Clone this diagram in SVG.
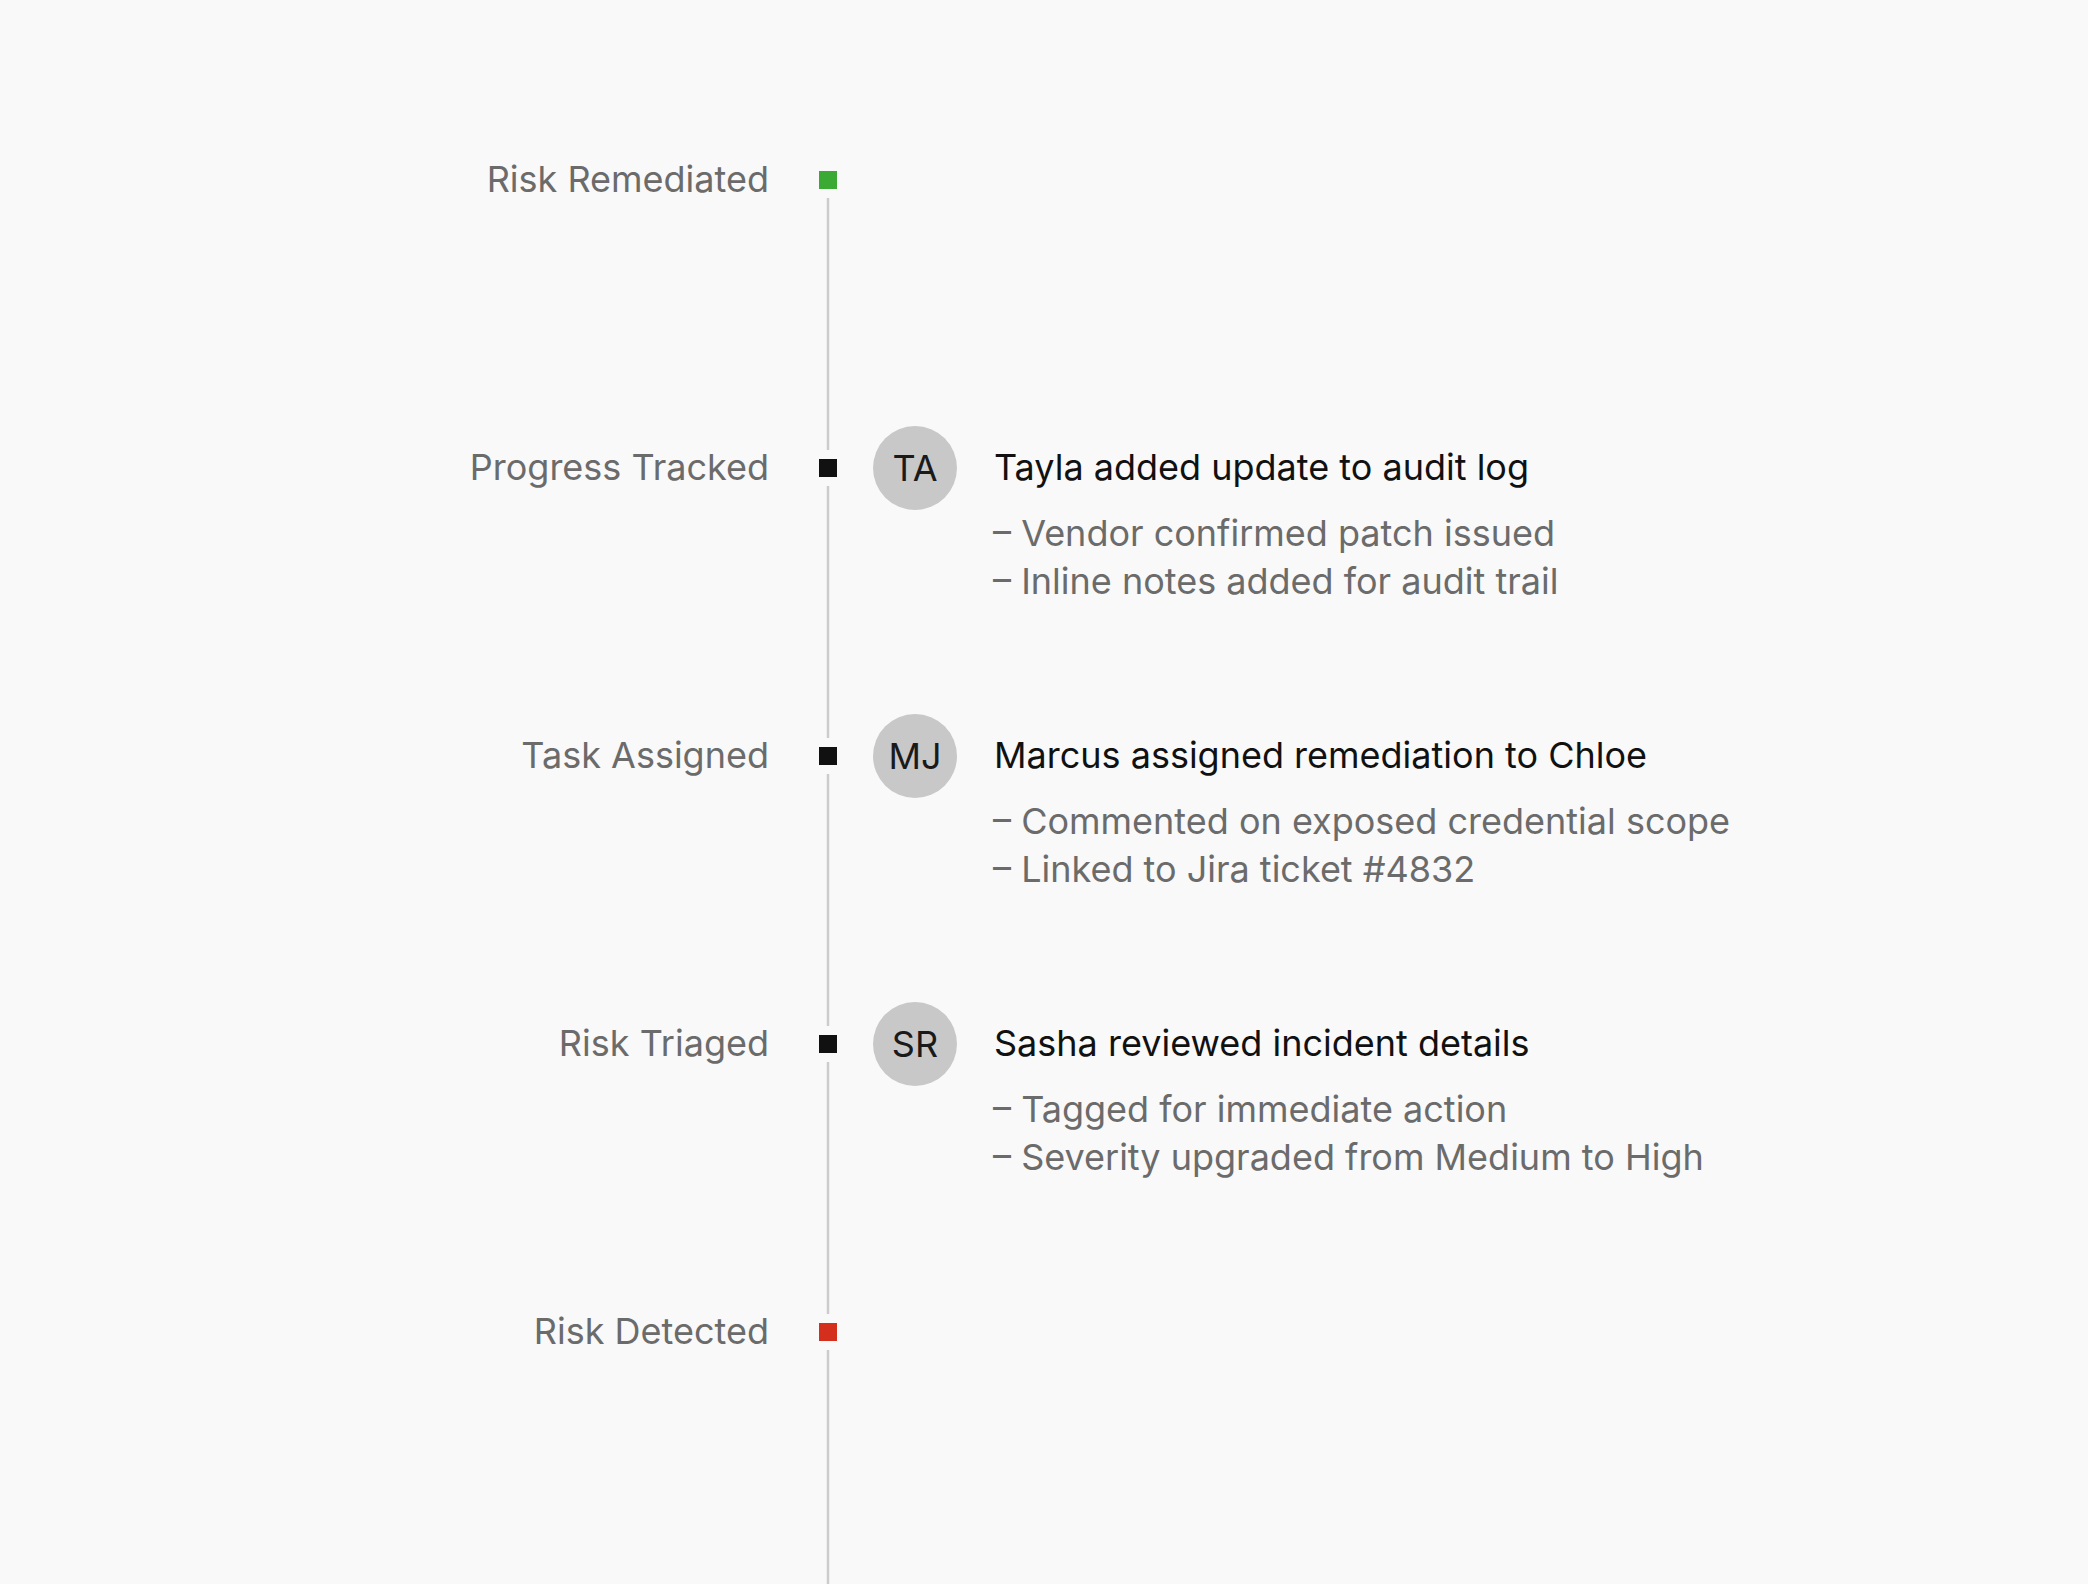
<svg xmlns="http://www.w3.org/2000/svg" width="2088" height="1584" viewBox="0 0 2088 1584">
<style>
.lbl{font-family:Inter,"Noto Sans",sans-serif;font-size:36px;fill:#6b6b6b;text-anchor:end}
.ttl{font-family:Inter,"Noto Sans",sans-serif;font-size:36px;fill:#111111}
.det{font-family:Inter,"Noto Sans",sans-serif;font-size:36px;fill:#6b6b6b}
.ini{font-family:Inter,"Noto Sans",sans-serif;font-size:36px;fill:#1a1a1a;text-anchor:middle}
.av{fill:#c9c8c9}
.seg{stroke:#cccccc;stroke-width:2.5;fill:none}
</style>
<rect width="2088" height="1584" fill="#f9f9f9"/>
<g id="connectors">
<line class="seg" x1="828" y1="198" x2="828" y2="450"/>
<line class="seg" x1="828" y1="486" x2="828" y2="738"/>
<line class="seg" x1="828" y1="774" x2="828" y2="1026"/>
<line class="seg" x1="828" y1="1062" x2="828" y2="1314"/>
<line class="seg" x1="828" y1="1350" x2="828" y2="1584"/>
</g>
<g id="risk-remediated">
<text class="lbl" x="769" y="192">Risk Remediated</text>
<rect x="819" y="171" width="18" height="18" fill="#3aaa35"/>
</g>
<g id="progress-tracked">
<text class="lbl" x="769" y="480">Progress Tracked</text>
<rect x="819" y="459" width="18" height="18" fill="#111111"/>
<circle class="av" cx="915" cy="468" r="42"/>
<text class="ini" x="915" y="481">TA</text>
<text class="ttl" x="994" y="480">Tayla added update to audit log</text>
<text class="det" x="993" y="546">– Vendor confirmed patch issued</text>
<text class="det" x="993" y="594">– Inline notes added for audit trail</text>
</g>
<g id="task-assigned">
<text class="lbl" x="769" y="768">Task Assigned</text>
<rect x="819" y="747" width="18" height="18" fill="#111111"/>
<circle class="av" cx="915" cy="756" r="42"/>
<text class="ini" x="915" y="769">MJ</text>
<text class="ttl" x="994" y="768">Marcus assigned remediation to Chloe</text>
<text class="det" x="993" y="834">– Commented on exposed credential scope</text>
<text class="det" x="993" y="882">– Linked to Jira ticket #4832</text>
</g>
<g id="risk-triaged">
<text class="lbl" x="769" y="1056">Risk Triaged</text>
<rect x="819" y="1035" width="18" height="18" fill="#111111"/>
<circle class="av" cx="915" cy="1044" r="42"/>
<text class="ini" x="915" y="1057">SR</text>
<text class="ttl" x="994" y="1056">Sasha reviewed incident details</text>
<text class="det" x="993" y="1122">– Tagged for immediate action</text>
<text class="det" x="993" y="1170">– Severity upgraded from Medium to High</text>
</g>
<g id="risk-detected">
<text class="lbl" x="769" y="1344">Risk Detected</text>
<rect x="819" y="1323" width="18" height="18" fill="#d42e1c"/>
</g>
</svg>
